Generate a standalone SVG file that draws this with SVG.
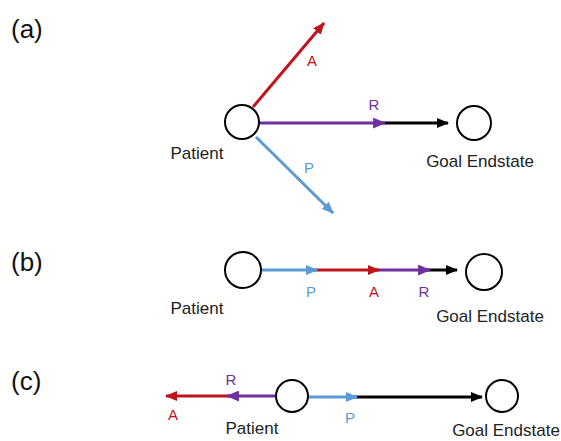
<svg xmlns="http://www.w3.org/2000/svg" width="561" height="441" viewBox="0 0 561 441">
<style>
text{font-family:"Liberation Sans",Arial,sans-serif;}
.lab{font-size:26px;fill:#111;}
.name{font-size:17px;fill:#222;}
.let{font-size:15px;}
.node{fill:#fff;stroke:#000;stroke-width:2;}
.red{stroke:#C0141C;}
.pur{stroke:#7030A0;}
.blu{stroke:#5B9BD5;}
.blk{stroke:#000;}
line{stroke-width:3;fill:none;}
</style>
<defs>
<marker id="mr" markerUnits="userSpaceOnUse" viewBox="0 0 12 10" refX="11" refY="5" markerWidth="12" markerHeight="10" orient="auto"><path d="M0,0 L12,5 L0,10 z" fill="#C0141C"/></marker>
<marker id="mp" markerUnits="userSpaceOnUse" viewBox="0 0 12 10" refX="11" refY="5" markerWidth="13" markerHeight="11" orient="auto"><path d="M0,0 L12,5 L0,10 z" fill="#7030A0"/></marker>
<marker id="mb" markerUnits="userSpaceOnUse" viewBox="0 0 12 10" refX="11" refY="5" markerWidth="12" markerHeight="10" orient="auto"><path d="M0,0 L12,5 L0,10 z" fill="#5B9BD5"/></marker>
<marker id="mk" markerUnits="userSpaceOnUse" viewBox="0 0 12 10" refX="11" refY="5" markerWidth="12" markerHeight="10" orient="auto"><path d="M0,0 L12,5 L0,10 z" fill="#000"/></marker>
</defs>

<text class="lab" x="11" y="38">(a)</text>
<text class="lab" x="11" y="271">(b)</text>
<text class="lab" x="11" y="390">(c)</text>

<g id="connectors">
<!-- (a) -->
<line class="red" x1="253" y1="107" x2="324" y2="23" marker-end="url(#mr)"/>
<line class="blu" x1="256" y1="137" x2="333" y2="213" marker-end="url(#mb)"/>
<line class="blk" x1="380" y1="123" x2="448" y2="123" stroke-width="2.5" marker-end="url(#mk)"/>
<line class="pur" x1="259" y1="123" x2="385" y2="123" stroke-width="4.5" marker-end="url(#mp)"/>
<!-- (b) -->
<line class="blk" x1="426" y1="270" x2="457" y2="270" stroke-width="2.5" marker-end="url(#mk)"/>
<line class="pur" x1="376" y1="270" x2="430" y2="270" marker-end="url(#mp)"/>
<line class="red" x1="314" y1="270" x2="379" y2="270" marker-end="url(#mr)"/>
<line class="blu" x1="261" y1="270" x2="317" y2="270" stroke-width="3.5" marker-end="url(#mb)"/>
<!-- (c) -->
<line class="blk" x1="354" y1="397" x2="482" y2="397" stroke-width="2.5" marker-end="url(#mk)"/>
<line class="blu" x1="308" y1="397" x2="357" y2="397" marker-end="url(#mb)"/>
<line class="red" x1="230" y1="396" x2="166" y2="396" marker-end="url(#mr)"/>
<line class="pur" x1="276" y1="396" x2="227" y2="396" marker-end="url(#mp)"/>
</g>

<g id="a-labels">
<text class="let" x="312" y="66" text-anchor="middle" fill="#C0141C">A</text>
<text class="let" x="374" y="110" text-anchor="middle" fill="#7030A0">R</text>
<text class="let" x="309" y="173" text-anchor="middle" fill="#5B9BD5">P</text>
</g>
<g id="a-patient">
<circle class="node" cx="242" cy="122" r="17"/>
<text class="name" x="197" y="159" text-anchor="middle">Patient</text>
</g>
<g id="a-goal">
<circle class="node" cx="474" cy="123" r="17"/>
<text class="name" x="480" y="167" text-anchor="middle">Goal Endstate</text>
</g>

<g id="b-labels">
<text class="let" x="311" y="297" text-anchor="middle" fill="#5B9BD5">P</text>
<text class="let" x="374" y="297" text-anchor="middle" fill="#C0141C">A</text>
<text class="let" x="424" y="297" text-anchor="middle" fill="#7030A0">R</text>
</g>
<g id="b-patient">
<circle class="node" cx="243" cy="270" r="18"/>
<text class="name" x="197" y="314" text-anchor="middle" font-size="18">Patient</text>
</g>
<g id="b-goal">
<circle class="node" cx="484" cy="272" r="18"/>
<text class="name" x="490" y="322" text-anchor="middle" font-size="18.5">Goal Endstate</text>
</g>

<g id="c-labels">
<text class="let" x="231" y="385" text-anchor="middle" fill="#7030A0">R</text>
<text class="let" x="173" y="420" text-anchor="middle" fill="#C0141C">A</text>
<text class="let" x="350" y="423" text-anchor="middle" fill="#5B9BD5">P</text>
</g>
<g id="c-patient">
<circle class="node" cx="292" cy="396" r="16"/>
<text class="name" x="252" y="434" text-anchor="middle" font-size="16">Patient</text>
</g>
<g id="c-goal">
<circle class="node" cx="502" cy="396" r="16"/>
<text class="name" x="506" y="436" text-anchor="middle" font-size="15.5">Goal Endstate</text>
</g>
</svg>
